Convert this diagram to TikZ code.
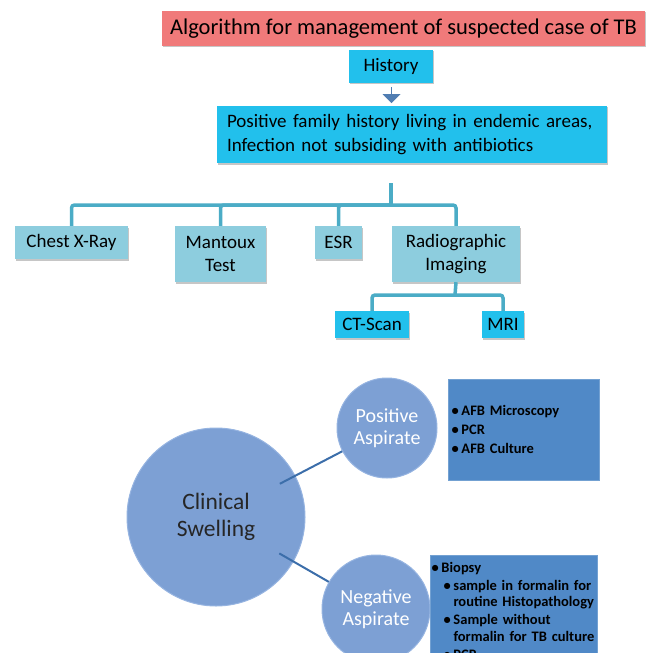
\documentclass[tikz,border=0pt]{standalone}
\usepackage{fontspec}
\setmainfont{Carlito}
\usetikzlibrary{shapes.arrows,shadows,calc}

\definecolor{titlered}{RGB}{240,122,122}
\definecolor{skycyan}{RGB}{34,192,236}
\definecolor{paleteal}{RGB}{141,205,222}
\definecolor{treeteal}{RGB}{75,172,198}
\definecolor{circblue}{RGB}{125,160,212}
\definecolor{rimblue}{RGB}{150,180,225}
\definecolor{listblue}{RGB}{80,137,199}
\definecolor{linkblue}{RGB}{60,110,170}

\newcommand{\blt}[2]{{\leftskip=#1\hangindent=10bp\hangafter=1\noindent\makebox[10bp][l]{\textbullet}#2\par}}

\tikzset{
  flatbox/.style={rectangle,inner sep=0pt,text=black,
    drop shadow={shadow xshift=1bp,shadow yshift=-1.5bp,opacity=0.45}},
  treeline/.style={draw=treeteal,line width=3.5bp,rounded corners=3bp},
  link/.style={draw=linkblue,line width=2bp},
}

\begin{document}
\begin{tikzpicture}[x=1bp,y=-1bp]
  \useasboundingbox (0,0) rectangle (651,653);
  \clip (0,0) rectangle (651,653);

  % top flow chart
  \begin{scope}[every node/.style={flatbox,font=\fontsize{19bp}{23bp}\selectfont}]
    \node[fill=titlered,minimum width=483bp,minimum height=35bp,
          font=\fontsize{22.5bp}{26bp}\selectfont] (title) at (403.5,28.5)
          {Algorithm for management of suspected case of TB};
    \node[fill=skycyan,minimum width=84bp,minimum height=33bp] (history) at (391,66.5) {History};
    \node[fill=skycyan,minimum width=390bp,minimum height=57bp,
          text width=370bp,align=left,font=\fontsize{19bp}{24bp}\selectfont] (signs) at (412,134.5)
          {Positive family history living in endemic areas,\\Infection not subsiding with antibiotics};
    \node[fill=paleteal,minimum width=113bp,minimum height=33bp] (chest) at (71.5,242.5) {Chest X-Ray};
    \node[fill=paleteal,minimum width=91bp,minimum height=56bp,align=center] (mantoux) at (220.5,254) {Mantoux\\Test};
    \node[fill=paleteal,minimum width=47bp,minimum height=33bp] (esr) at (338.5,242.5) {ESR};
    \node[fill=paleteal,minimum width=128bp,minimum height=56bp,align=center] (radio) at (456,254) {Radiographic\\Imaging};
    \node[fill=skycyan,minimum width=74bp,minimum height=27bp] (ct) at (372,324.5) {CT-Scan};
    \node[fill=skycyan,minimum width=42bp,minimum height=27bp] (mri) at (503,324.5) {MRI};
  \end{scope}

  \node[single arrow,fill=linkblue!90,draw=none,shape border rotate=270,
        minimum width=18bp,minimum height=16bp,single arrow head extend=4.5bp,
        inner sep=0pt] (down) at (391.5,95) {};

  \coordinate (stem) at (391,183);
  \coordinate (split) at (391,205);
  \coordinate (subsplit) at (455,295);
  \draw[treeline] (stem) -- (split);
  \draw[treeline] (split) -| (chest.north);
  \draw[treeline] (split) -| (mantoux.north);
  \draw[treeline] (split) -| (esr.north);
  \draw[treeline] (split) -| (radio.north);
  \draw[treeline] (radio.south) -- (subsplit);
  \draw[treeline] (subsplit) -| (ct.north);
  \draw[treeline] (subsplit) -| (mri.north);

  % lower part
  \begin{scope}[every node/.style={circle,fill=circblue,draw=rimblue,line width=1bp,align=center}]
    \node[minimum size=178bp,text=black!85,font=\fontsize{23.5bp}{27bp}\selectfont] (swell) at (216,517) {Clinical\\Swelling};
    \node[minimum size=100bp,text=white,font=\fontsize{20bp}{22bp}\selectfont] (pos) at (387,428) {Positive\\Aspirate};
    \node[minimum size=108bp,text=white,font=\fontsize{20bp}{22bp}\selectfont] (neg) at (376,609) {Negative\\Aspirate};
  \end{scope}

  \draw[link] ($(swell.center)!72bp!(pos.center)$) -- (pos);
  \draw[link] ($(swell.center)!73bp!(neg.center)$) -- (neg);

  \begin{scope}[every node/.style={rectangle,fill=listblue,draw=listblue!80!white,line width=1bp,
      text=black,align=left,font=\bfseries\fontsize{14.5bp}{16.5bp}\selectfont}]
    \node[minimum width=151bp,minimum height=101bp,text width=144bp,inner xsep=3.5bp] (poslist) at (523.5,429.5)
      {\setlength{\parskip}{2.5bp}\blt{0bp}{AFB Microscopy}\blt{0bp}{PCR}\blt{0bp}{AFB Culture}};
    \node[anchor=north west,minimum width=167bp,minimum height=110bp,text width=165bp,inner xsep=1bp,inner ysep=0pt] (neglist) at (430,555)
      {\setlength{\parskip}{1.5bp}\blt{0bp}{Biopsy}%
       \blt{12bp}{sample in formalin for\newline routine Histopathology}%
       \blt{12bp}{Sample without\newline formalin for TB culture}%
       \blt{12bp}{PCR}};
  \end{scope}
\end{tikzpicture}
\end{document}
